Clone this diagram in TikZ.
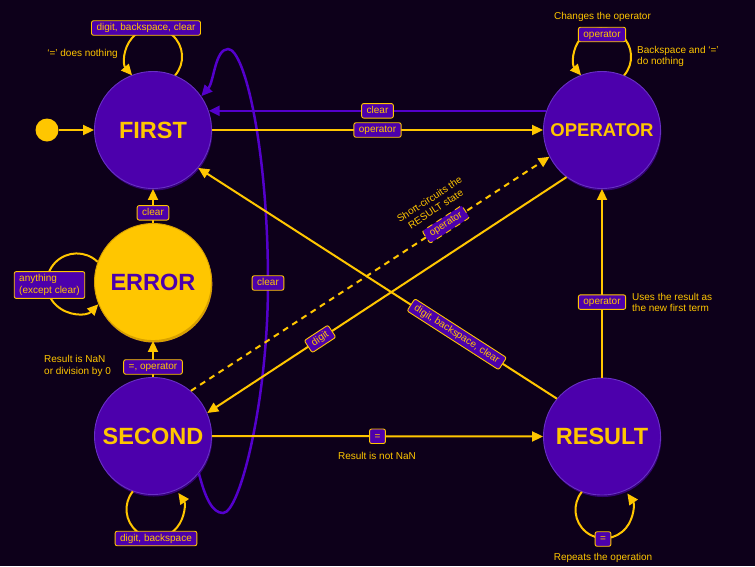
\documentclass[tikz,border=0pt]{standalone}
\usepackage{fontspec}
\setmainfont{Liberation Sans}
\usetikzlibrary{arrows.meta,shadows}
\definecolor{bg}{RGB}{13,0,26}
\definecolor{nodep}{RGB}{76,0,172}
\definecolor{rimp}{RGB}{104,48,196}
\definecolor{shadowp}{RGB}{52,0,118}
\definecolor{yel}{RGB}{255,198,0}
\definecolor{yeldark}{RGB}{215,160,0}
\definecolor{linep}{RGB}{84,0,204}
\begin{document}
\begin{tikzpicture}[x=1pt,y=1pt,
  state/.style={circle, minimum size=117pt, inner sep=0pt, fill=nodep, draw=rimp, line width=0.9pt,
    text=yel, font=\bfseries\fontsize{23.5}{25}\selectfont,
    drop shadow={shadow xshift=0.8pt, shadow yshift=-2pt, fill=shadowp, opacity=1}},
  lbl/.style={draw=yel, fill=nodep, text=yel, rounded corners=2pt, line width=0.9pt,
    font=\fontsize{10}{11.5}\selectfont, inner xsep=5pt, inner ysep=2.5pt, text height=7.5pt, text depth=2pt},
  note/.style={text=yel, font=\fontsize{10}{11.5}\selectfont, inner sep=0pt},
  ya/.style={draw=yel, line width=2pt, -{Triangle[length=11pt,width=10pt]}},
  pa/.style={draw=linep, line width=2.5pt, -{Triangle[length=11pt,width=10pt]}},
]
\fill[bg] (0,0) rectangle (755,-566);
\useasboundingbox (0,0) rectangle (755,-566);

% states
\node[state] (first) at (153,-130) {FIRST};
\node[state, font=\bfseries\fontsize{18.5}{20}\selectfont] (oper) at (602,-130) {OPERATOR};
\node[state, fill=yel, draw=yeldark, text=nodep,
  drop shadow={shadow xshift=0.8pt, shadow yshift=-2pt, fill=yeldark, opacity=1}] (error) at (153,-282) {ERROR};
\node[state] (second) at (153,-436) {SECOND};
\node[state] (result) at (602,-436.5) {RESULT};
\node[circle, fill=yel, minimum size=23pt, inner sep=0pt] (start) at (47,-130) {};

% purple clear loop SECOND -> FIRST
\draw[pa] (second.-39) .. controls (205,-497) and (212,-513) .. (223,-513)
  .. controls (240,-513) and (268,-400) .. (268,-283) node[lbl]{clear}
  .. controls (268,-150) and (245,-49) .. (228,-49)
  .. controls (215,-49) and (214,-82) .. (first.35);

% straight connectors
\draw[ya] (start) -- (first);
\draw[pa] (oper.161) -- node[lbl]{clear} (first.19);
\draw[ya] (first.east) -- node[lbl]{operator} (oper.west);
\draw[ya] (error.north) -- node[lbl, pos=0.3]{clear} (first.south);
\draw[ya] (second.north) -- node[lbl, pos=0.28]{=, operator} (error.south);
\draw[ya] (second.east) -- node[lbl]{=} (result.west);
\draw[ya] (result.north) -- node[lbl, pos=0.4]{operator} (oper.south);
\draw[ya] (result.140) -- node[lbl, sloped, pos=0.279]{digit, backspace, clear} (first.320);
\draw[ya] (oper.233) -- node[lbl, sloped, pos=0.686]{digit} (second.23);
\draw[ya, dash pattern=on 6pt off 5pt] (second.50) --
  node[lbl, sloped, pos=0.711]{operator}
  node[note, sloped, pos=0.711, above=14pt, align=center]{Short-circuits the\\RESULT state}
  (oper.207);

% self loops
\draw[ya] (first.68) arc[start angle=-41, end angle=221, radius=28.5];
\node[lbl] (lfirst) at (146,-28) {digit, backspace, clear};
\draw[ya] (oper.68) arc[start angle=-41, end angle=221, radius=28.5];
\node[lbl] (loper) at (602,-34.5) {operator};
\draw[ya] (error.160) arc[start angle=46, end angle=316, radius=30];
\node[lbl, align=left, text height=, text depth=, inner ysep=3pt] (lerror) at (49.5,-285) {anything\\(except clear)};
\draw[ya] (second.250) arc[start angle=141, end angle=395, radius=28.5];
\node[lbl] (lsecond) at (156,-538.5) {digit, backspace};
\draw[ya] (result.250) arc[start angle=141, end angle=395, radius=28.5];
\node[lbl] (lresult) at (603,-539) {=};

% notes
\node[note] at (82.5,-54) {‘=’ does nothing};
\node[note] at (602.5,-17) {Changes the operator};
\node[note, align=left, anchor=west] at (637,-56.5) {Backspace and ‘=’\\do nothing};
\node[note, align=left, anchor=west] at (44,-366) {Result is NaN\\or division by 0};
\node[note] at (377,-456) {Result is not NaN};
\node[note, align=left, anchor=west] at (632,-302.5) {Uses the result as\\the new first term};
\node[note] at (603,-558) {Repeats the operation};
\end{tikzpicture}
\end{document}
